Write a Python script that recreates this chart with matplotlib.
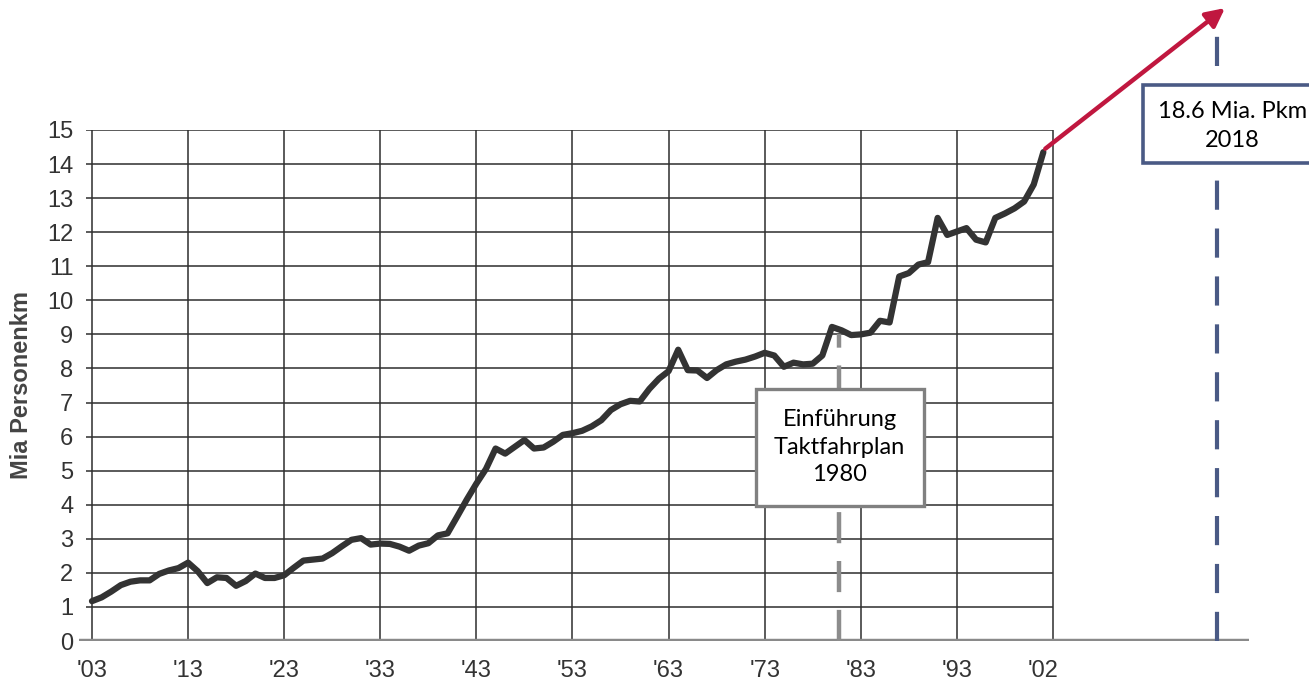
import matplotlib

matplotlib.use('Agg')
import matplotlib.pyplot as plt
from matplotlib.patches import Rectangle

# Personenkilometer (Mia) pro Jahr
years = list(range(1903, 2003))
pkm = [
    1.17, 1.28, 1.45, 1.64, 1.74, 1.78, 1.78, 1.97, 2.07, 2.14,
    2.30, 2.05, 1.70, 1.87, 1.85, 1.62, 1.76, 1.98, 1.85, 1.85,
    1.93, 2.15, 2.36, 2.39, 2.42, 2.58, 2.78, 2.97, 3.02, 2.83,
    2.86, 2.85, 2.77, 2.65, 2.80, 2.87, 3.10, 3.16, 3.65, 4.15,
    4.62, 5.05, 5.65, 5.50, 5.70, 5.90, 5.65, 5.68, 5.85, 6.05,
    6.10, 6.17, 6.30, 6.48, 6.78, 6.95, 7.05, 7.03, 7.40, 7.70,
    7.92, 8.55, 7.95, 7.94, 7.72, 7.95, 8.12, 8.20, 8.26, 8.35,
    8.46, 8.38, 8.05, 8.17, 8.12, 8.14, 8.38, 9.22, 9.12, 8.98,
    9.00, 9.05, 9.40, 9.35, 10.70, 10.80, 11.05, 11.12, 12.42, 11.92,
    12.02, 12.12, 11.78, 11.70, 12.42, 12.55, 12.70, 12.90, 13.40, 14.35,
]
tick_years = [1903, 1913, 1923, 1933, 1943, 1953, 1963, 1973, 1983, 1993, 2002]
tick_labels = ["'03", "'13", "'23", "'33", "'43", "'53", "'63", "'73", "'83", "'93", "'02"]
grid_years = [1903, 1913, 1923, 1933, 1943, 1953, 1963, 1973, 1983, 1993, 2003]
y_ticks = list(range(16))

taktfahrplan_year = 1980.7
ziel_year = 2020.1
ziel_label = '18.6 Mia. Pkm\n2018'
takt_label = 'Einführung\nTaktfahrplan\n1980'

fig = plt.figure(figsize=(13.09, 6.85), dpi=100)
ax = fig.add_axes([79 / 1309, 44 / 685, 1170 / 1309, 511 / 685])
ax.set_xlim(1901.65, 2023.4)
ax.set_ylim(0, 15)
for s in ax.spines.values():
  s.set_visible(False)

# Raster
ax.hlines(y_ticks[1:], 1902.35, 2003, color='#2e2e2e', lw=1.1, zorder=1)
ax.vlines(grid_years, 0, 15, color='#2e2e2e', lw=1.1, zorder=1)
# x-Achse
ax.axhline(0, color='#8a8a8a', lw=3.2, zorder=2)

ax.set_yticks(y_ticks)
ax.set_xticks(tick_years)
ax.set_xticklabels(tick_labels)
ax.tick_params(axis='both', length=0, labelsize=17, labelcolor='#333333')
ax.tick_params(axis='y', pad=4)
ax.tick_params(axis='x', pad=14)
for lbl in ax.get_xticklabels() + ax.get_yticklabels():
  lbl.set_family('Liberation Sans')

fig.text(22 / 1309, (685 - 385) / 685, 'Mia Personenkm', rotation=90,
         ha='center', va='center', fontsize=17, fontweight='bold',
         color='#444444', family='Liberation Sans')

# Taktfahrplan Markierung
ax.vlines(taktfahrplan_year, 0, 9.0, color='#8c8c8c', lw=3.2,
          linestyles=(0, (7, 4)), zorder=3)

ax.plot(years, pkm, color='#333333', lw=4.5, solid_joinstyle='round',
        solid_capstyle='round', zorder=4)

ax.add_patch(Rectangle((1972.1, 3.96), 17.5, 3.44, facecolor='white',
                       edgecolor='#808080', lw=2.4, zorder=5))
ax.text(1980.8, 5.69, takt_label, ha='center', va='center', fontsize=17,
        family='Lato', linespacing=1.38, color='black', zorder=6)

# Ziel 2018
ax.vlines(ziel_year, 0, 18.3, color='#4a5a85', lw=3.0,
          linestyles=(0, (7, 4.5)), zorder=3, clip_on=False)
ax.add_patch(Rectangle((2012.33, 14.03), 25, 2.29, facecolor='white',
                       edgecolor='#4a5a85', lw=2.6, zorder=5, clip_on=False))
ax.text(2021.7, 15.12, ziel_label, ha='center', va='center', fontsize=17,
        family='Lato', linespacing=1.45, color='black', zorder=6, clip_on=False)

ax.annotate('', xy=(2020.9, 18.58), xytext=(2002.2, 14.45),
            arrowprops=dict(arrowstyle='-|>', color='#c0173f', lw=3.2,
                            mutation_scale=28, shrinkA=0, shrinkB=0),
            annotation_clip=False, zorder=7)

fig.savefig('out.png', dpi=100)
